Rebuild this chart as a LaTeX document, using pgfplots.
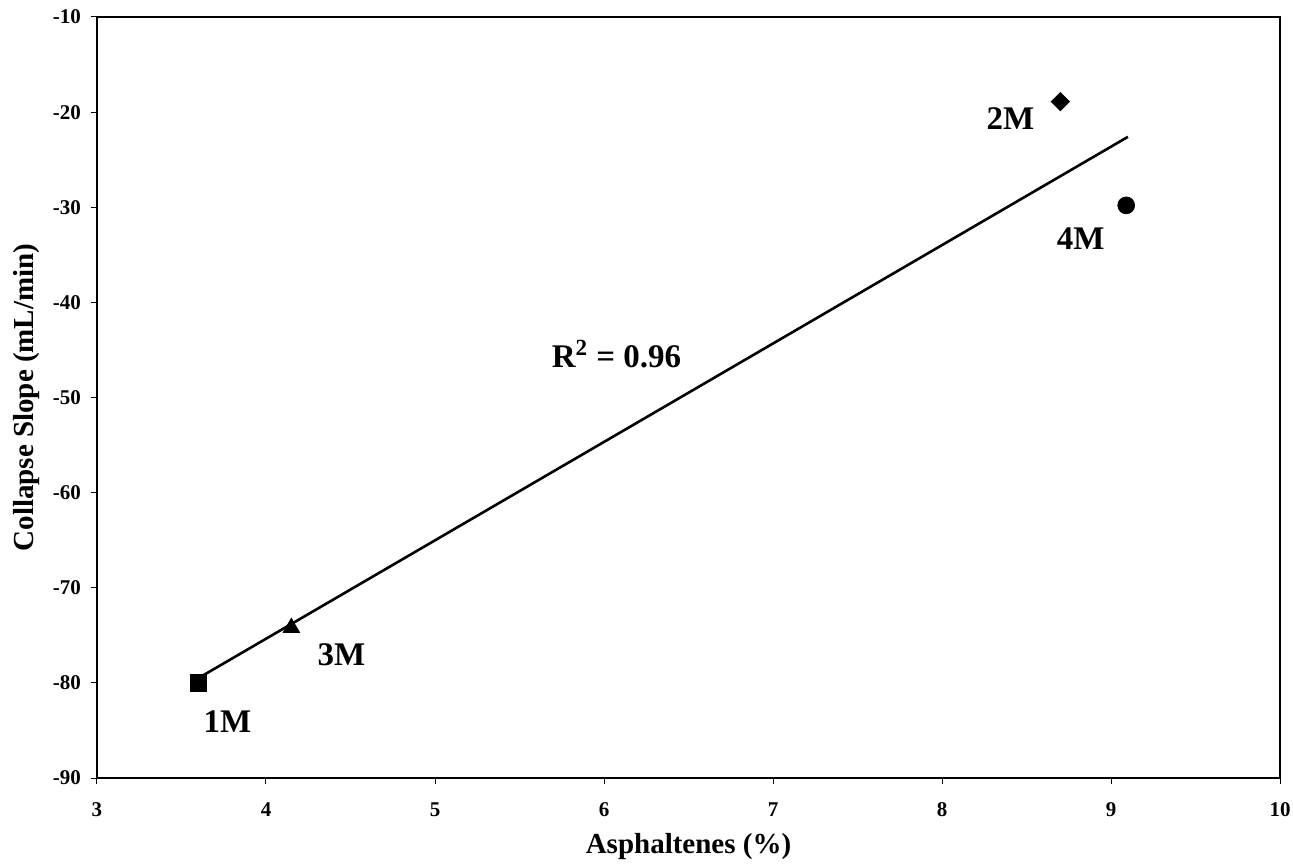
\documentclass[border=0pt]{standalone}
\usepackage{fontspec}
\setmainfont{Liberation Serif}
\usepackage{pgfplots}
\pgfplotsset{compat=1.18}
\usetikzlibrary{plotmarks}

\begin{document}
\begin{tikzpicture}
\begin{axis}[
  scale only axis,
  width=591.5pt, height=380.5pt,
  xmin=3, xmax=10, ymin=-90, ymax=-10,
  xtick={3,4,...,10}, ytick={-90,-80,...,-10},
  axis line style={line width=1pt},
  tick style={black, line width=0.5pt},
  tick align=outside, major tick length=3pt,
  xtick pos=bottom, ytick pos=left,
  /pgf/number format/assume math mode=true,
  ticklabel style={font=\fontsize{10.5}{12}\selectfont\bfseries},
  xticklabel style={yshift=-5pt, text height=7.5pt, text depth=0pt},
  yticklabel style={xshift=-1.5pt},
  xlabel={Asphaltenes (\%)},
  ylabel={Collapse Slope (mL/min)},
  every axis x label/.style={at={(axis description cs:0.5,-0.0907)}, anchor=center,
    font=\fontsize{14.5}{17}\selectfont\bfseries},
  every axis y label/.style={at={(axis description cs:-0.0592,0.5)}, anchor=center, rotate=90,
    font=\fontsize{14.5}{17}\selectfont\bfseries},
  clip=false,
]
% linear fit through the four samples
\addplot[black, line width=1.3pt] coordinates {(3.6,-79.5) (9.1,-22.6)};
% samples
\addplot[only marks, mark=square*, mark size=4.1pt, black] coordinates {(3.6,-80)};
\addplot[only marks, mark=triangle*, mark size=4.7pt, black] coordinates {(4.15,-74.2)};
\addplot[only marks, mark=square*, mark size=3.2pt, mark options={rotate=45}, black] coordinates {(8.7,-18.9)};
\addplot[only marks, mark=*, mark size=4.2pt, black] coordinates {(9.09,-29.8)};
% sample names and fit quality
\begin{scope}[every node/.style={font=\fontsize{16.5}{19}\selectfont\bfseries, inner sep=0pt}]
\node at (axis cs:3.772,-84.03) {1M};
\node at (axis cs:4.447,-77.09) {3M};
\node at (axis cs:8.405,-20.73) {2M};
\node at (axis cs:8.82,-33.34) {4M};
\node at (axis cs:6.074,-45.44) {R\textsuperscript{2} = 0.96};
\end{scope}
\end{axis}
% page frame
\pgfresetboundingbox
\path[use as bounding box] (-48.5pt,-43.5pt) rectangle (598pt,389pt);
\end{tikzpicture}
\end{document}
